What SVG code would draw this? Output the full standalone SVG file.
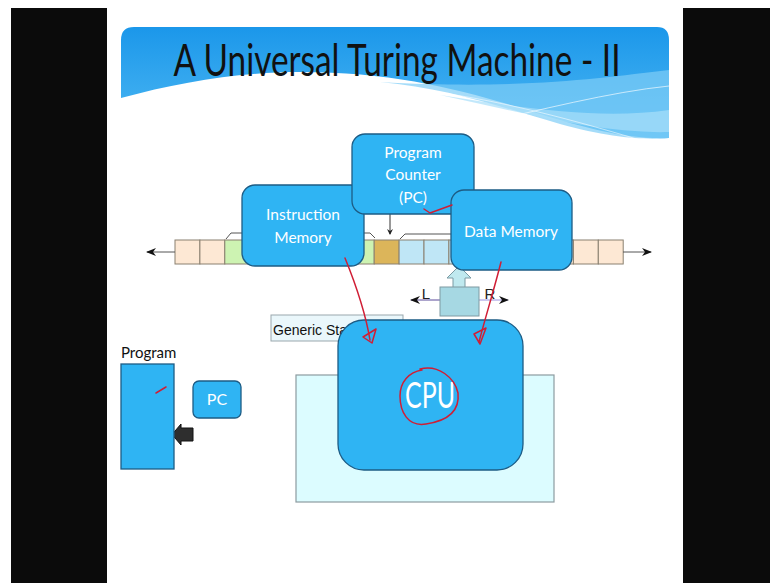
<svg xmlns="http://www.w3.org/2000/svg" width="770" height="583" viewBox="0 0 770 583">
  <defs>
    <style>
      .node { fill: #2fb4f3; stroke: #1d5c85; stroke-width: 1.3; }
      .ntext { font-family: Lato, "Open Sans", sans-serif; fill: #ffffff; text-anchor: middle; }
      .cell { stroke: #8a8070; stroke-width: 1; }
      .peach { fill: #fde8d4; }
      .green { fill: #cdf3b2; }
      .gold { fill: #dcb55a; }
      .lblue { fill: #bfe6f6; }
      .thin { fill: none; stroke: #555; stroke-width: 1; }
      .pen { fill: none; stroke: #d01e35; stroke-width: 1.5; stroke-linecap: round; stroke-linejoin: round; }
    </style>
    <linearGradient id="bannerGrad" x1="0" y1="0" x2="0" y2="1">
      <stop offset="0" stop-color="#1b97ea"/>
      <stop offset="1" stop-color="#4fb9f3"/>
    </linearGradient>
    <marker id="tipBlack" markerWidth="10" markerHeight="8" refX="9" refY="4" orient="auto" markerUnits="userSpaceOnUse">
      <path d="M0,0 L10,4 L0,8 L3,4 Z" fill="#111"/>
    </marker>
    <marker id="tipSmall" markerWidth="6" markerHeight="6" refX="5" refY="3" orient="auto" markerUnits="userSpaceOnUse">
      <path d="M0,0 L6,3 L0,6 L2,3 Z" fill="#222"/>
    </marker>
  </defs>

  <!-- page and side bars -->
  <rect x="0" y="0" width="770" height="583" fill="#ffffff"/>
  <rect x="11" y="8" width="96" height="575" fill="#0b0b0b"/>
  <rect x="683" y="8" width="87" height="575" fill="#0b0b0b"/>

  <!-- title banner -->
  <g id="banner">
    <path d="M121,40 Q121,27 134,27 L657,27 Q669,27 669,40 L669,138 C630,140 585,128 540,114 C470,92 400,72 300,72 C240,72 180,82 121,98 Z" fill="url(#bannerGrad)"/>
    <path d="M380,82 C450,88 510,110 560,124 C610,138 645,140 669,138 L669,70 C600,78 520,90 380,82 Z" fill="#7fcdf6" opacity="0.7"/>
    <path d="M440,95 C520,112 600,134 669,132 L669,110 C600,120 520,108 440,95 Z" fill="#a8def9" opacity="0.7"/>
    <path d="M470,126 C540,110 610,92 669,86" fill="none" stroke="#ffffff" stroke-width="0.8" opacity="0.8"/>
    <path d="M400,88 C480,95 560,116 640,140" fill="none" stroke="#ffffff" stroke-width="0.8" opacity="0.7"/>
    <text x="397" y="76" font-family="Lato, 'Open Sans', sans-serif" font-size="44" fill="#111" text-anchor="middle" textLength="447" lengthAdjust="spacingAndGlyphs">A Universal Turing Machine - II</text>
  </g>

  <!-- state panel and generic state label -->
  <g id="state-panel">
    <rect x="296" y="375" width="258" height="127" fill="#dcfcff" stroke="#8c9ba0" stroke-width="1.2"/>
  </g>
  <g id="generic-state">
    <rect x="271" y="315" width="132" height="26" fill="#eaf7fb" stroke="#9aa7ad" stroke-width="1"/>
    <text x="273" y="335" font-family="'Liberation Sans', Arial, sans-serif" font-size="14" fill="#111">Generic Stat</text>
  </g>

  <!-- tape -->
  <g id="tape">
    <rect class="cell peach" x="175" y="240" width="24.9" height="24"/>
    <rect class="cell peach" x="199.9" y="240" width="24.9" height="24"/>
    <rect class="cell green" x="224.8" y="240" width="24.9" height="24"/>
    <rect class="cell green" x="249.7" y="240" width="24.9" height="24"/>
    <rect class="cell green" x="274.6" y="240" width="24.9" height="24"/>
    <rect class="cell green" x="299.5" y="240" width="24.9" height="24"/>
    <rect class="cell green" x="324.4" y="240" width="24.9" height="24"/>
    <rect class="cell green" x="349.3" y="240" width="24.9" height="24"/>
    <rect class="cell gold" x="374.2" y="240" width="24.9" height="24"/>
    <rect class="cell lblue" x="399.1" y="240" width="24.9" height="24"/>
    <rect class="cell lblue" x="424" y="240" width="24.9" height="24"/>
    <rect class="cell lblue" x="448.9" y="240" width="24.9" height="24"/>
    <rect class="cell lblue" x="473.8" y="240" width="24.9" height="24"/>
    <rect class="cell lblue" x="498.7" y="240" width="24.9" height="24"/>
    <rect class="cell lblue" x="523.6" y="240" width="24.9" height="24"/>
    <rect class="cell peach" x="548.5" y="240" width="24.9" height="24"/>
    <rect class="cell peach" x="573.4" y="240" width="24.9" height="24"/>
    <rect class="cell peach" x="598.3" y="240" width="24.9" height="24"/>
  </g>

  <!-- connectors -->
  <g id="connectors">
    <line x1="175" y1="252" x2="147" y2="252" stroke="#555" stroke-width="1" marker-end="url(#tipBlack)"/>
    <line x1="623" y1="252" x2="651" y2="252" stroke="#555" stroke-width="1" marker-end="url(#tipBlack)"/>
    <path class="thin" d="M226,239 L231,233 L245,233"/>
    <path class="thin" d="M362,233 L370,233 L375,238"/>
    <path class="thin" d="M400,239 L405,234 L455,234"/>
    <line x1="390" y1="214" x2="390" y2="234" stroke="#333" stroke-width="1" marker-end="url(#tipSmall)"/>
    <line x1="440" y1="300" x2="411" y2="300" stroke="#5a4a9a" stroke-width="1" marker-end="url(#tipBlack)"/>
    <line x1="479" y1="300" x2="508" y2="300" stroke="#9a90e0" stroke-width="1" marker-end="url(#tipBlack)"/>
    <path d="M453,288 L453,278 L447,278 L459,266 L471,278 L465,278 L465,288 Z" fill="#bfe9ef" stroke="#7a9aa3" stroke-width="1"/>
    <path d="M193,428 L181,428 L181,424 L172,434.5 L181,445 L181,441 L193,441 Z" fill="#2e2e2e" stroke="#111" stroke-width="1"/>
  </g>

  <!-- read/write head -->
  <g id="head">
    <rect x="440" y="287" width="39" height="29" fill="#a6d8e3" stroke="#7f9aa2" stroke-width="1"/>
    <text x="426" y="299" font-family="'Liberation Sans', Arial, sans-serif" font-size="15" fill="#222" text-anchor="middle">L</text>
    <text x="490" y="299" font-family="'Liberation Sans', Arial, sans-serif" font-size="15" fill="#222" text-anchor="middle">R</text>
  </g>

  <g id="instruction-memory">
    <rect class="node" x="242" y="185" width="122" height="81" rx="13"/>
    <text class="ntext" x="303" y="220" font-size="15.5">Instruction</text>
    <text class="ntext" x="303" y="243" font-size="15.5">Memory</text>
  </g>

  <g id="program-counter">
    <rect class="node" x="352" y="134" width="122" height="80" rx="13"/>
    <text class="ntext" x="413" y="158" font-size="15.5">Program</text>
    <text class="ntext" x="413" y="180" font-size="15.5">Counter</text>
    <text class="ntext" x="413" y="203" font-size="15.5">(PC)</text>
  </g>

  <g id="data-memory">
    <rect class="node" x="451" y="190" width="121" height="80" rx="13"/>
    <text class="ntext" x="511" y="237" font-size="15.5">Data Memory</text>
  </g>

  <g id="cpu">
    <rect class="node" x="338" y="320" width="185" height="150" rx="26"/>
    <text class="ntext" x="430" y="408" font-size="36" textLength="50" lengthAdjust="spacingAndGlyphs">CPU</text>
  </g>

  <g id="pc-small">
    <rect class="node" x="193" y="381" width="48" height="37" rx="6"/>
    <text class="ntext" x="217" y="405" font-size="16">PC</text>
  </g>

  <g id="program">
    <text x="121" y="358" font-family="Lato, 'Open Sans', sans-serif" font-size="15" fill="#111">Program</text>
    <rect x="121" y="364" width="53" height="105" fill="#2fb4f3" stroke="#1d5c85" stroke-width="1.3"/>
  </g>

  <!-- hand-drawn pen marks -->
  <g id="pen-marks">
    <path class="pen" d="M345,258 C356,285 365,310 370,340"/>
    <path class="pen" d="M363,337 L376,329 L372,343 Z"/>
    <path class="pen" d="M501,262 C494,290 486,315 479,342"/>
    <path class="pen" d="M474,334 L486,328 L480,344 Z"/>
    <path class="pen" d="M424,209 L430,213 L452,205"/>
    <path class="pen" d="M156,393 L166,387"/>
    <path class="pen" d="M420,369 C438,364 455,378 458,393 C460,412 446,421 426,424 C408,427 400,412 400,396 C400,382 409,372 422,370"/>
  </g>
</svg>
